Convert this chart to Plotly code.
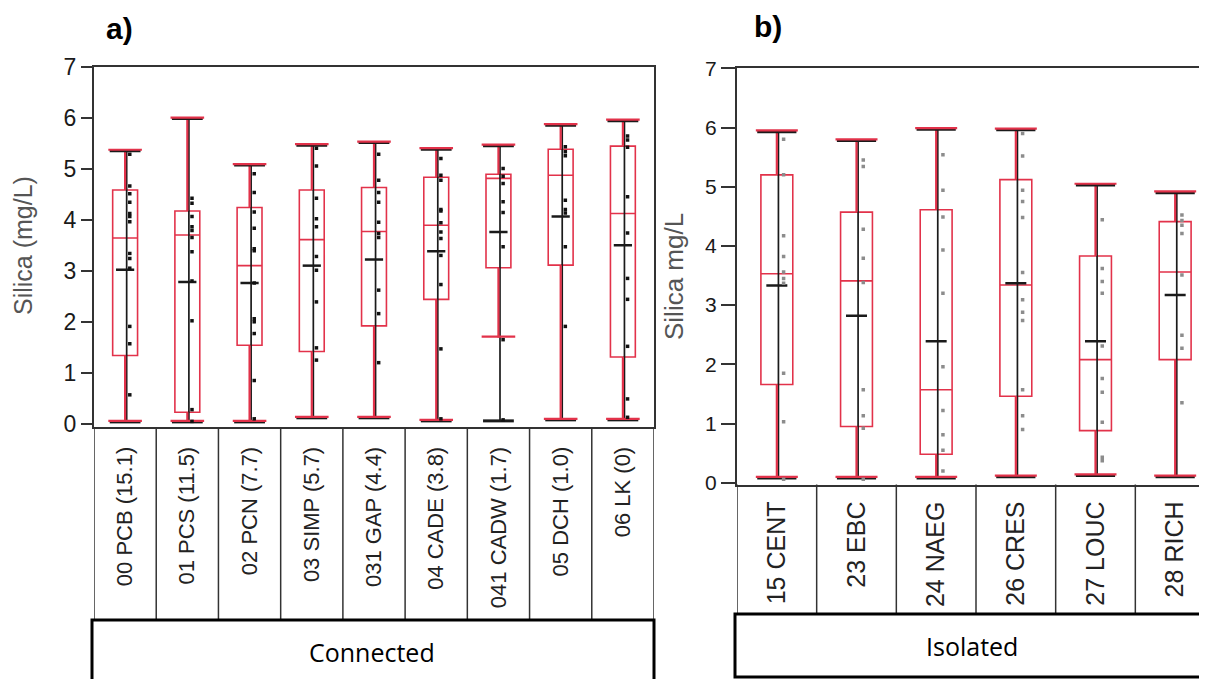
import plotly.graph_objects as go

# ---------------- Panel a) Connected ----------------
cats_a = ["00 PCB (15.1)", "01 PCS (11.5)", "02 PCN (7.7)", "03 SIMP (5.7)", "031 GAP (4.4)",
          "04 CADE (3.8)", "041 CADW (1.7)", "05 DCH (1.0)", "06 LK (0)"]
min_a = [0.04, 0.04, 0.04, 0.12, 0.12, 0.06, 0.06, 0.08, 0.08]
wlo_a = [0.04, 0.04, 0.04, 0.12, 0.12, 0.06, 1.69, 0.08, 0.08]
q1_a = [1.34, 0.23, 1.54, 1.42, 1.92, 2.44, 3.06, 3.11, 1.31]
med_a = [3.64, 3.70, 3.10, 3.61, 3.77, 3.89, 4.81, 4.87, 4.12]
q3_a = [4.58, 4.17, 4.24, 4.58, 4.63, 4.83, 4.89, 5.38, 5.44]
max_a = [5.35, 5.98, 5.07, 5.46, 5.51, 5.38, 5.45, 5.85, 5.94]
mean_a = [3.02, 2.78, 2.76, 3.10, 3.22, 3.38, 3.76, 4.06, 3.50]
pts_a = [
    [5.28, 4.66, 4.51, 4.34, 4.12, 4.06, 3.96, 3.34, 3.24, 3.05, 1.91, 1.57, 0.57],
    [4.42, 4.32, 4.06, 3.86, 3.79, 3.65, 3.37, 2.80, 2.02, 0.28, 0.05],
    [4.90, 4.53, 4.15, 3.83, 3.43, 3.39, 2.76, 2.06, 2.00, 1.77, 0.85, 0.10],
    [5.40, 5.05, 4.42, 4.02, 3.86, 3.28, 3.01, 2.39, 1.49, 1.25],
    [5.28, 4.77, 4.53, 4.34, 3.95, 3.73, 3.65, 2.62, 2.16, 1.20],
    [5.20, 4.87, 4.77, 4.20, 4.17, 3.94, 3.76, 3.63, 3.30, 2.73, 1.47, 0.10],
    [5.00, 4.85, 4.71, 4.35, 4.14, 3.47, 1.65, 0.08],
    [5.43, 5.33, 5.25, 4.38, 4.20, 4.13, 3.47, 1.91],
    [5.64, 5.56, 5.42, 4.45, 3.74, 2.85, 2.44, 1.52, 0.49, 0.13],
]

# ---------------- Panel b) Isolated ----------------
cats_b = ["15 CENT", "23 EBC", "24 NAEG", "26 CRES", "27 LOUC", "28 RICH"]
min_b = [0.08, 0.08, 0.08, 0.10, 0.12, 0.10]
wlo_b = [0.08, 0.08, 0.08, 0.10, 0.12, 0.10]
q1_b = [1.66, 0.95, 0.48, 1.46, 0.88, 2.08]
med_b = [3.53, 3.41, 1.57, 3.34, 2.08, 3.56]
q3_b = [5.20, 4.57, 4.61, 5.12, 3.83, 4.41]
max_b = [5.93, 5.78, 5.97, 5.96, 5.03, 4.90]
mean_b = [3.33, 2.82, 2.39, 3.37, 2.39, 3.17]
pts_b = [
    [5.80, 5.20, 4.17, 3.82, 3.56, 3.45, 3.37, 1.85, 1.03, 0.06],
    [5.45, 5.34, 4.28, 3.79, 3.38, 1.57, 1.13, 0.92, 0.06],
    [5.54, 4.94, 4.49, 3.93, 3.20, 1.96, 1.22, 0.81, 0.55, 0.20],
    [5.90, 5.52, 4.94, 4.75, 4.48, 3.55, 3.09, 2.88, 2.74, 1.57, 1.13, 0.90],
    [4.44, 3.62, 3.40, 3.20, 2.31, 1.76, 1.53, 1.02, 0.43, 0.37],
    [4.52, 4.43, 4.35, 4.21, 3.51, 2.49, 2.27, 1.35],
]

RED = "#e2324a"
DARK = "#1a1a1a"
W, H = 1207, 679
OFF = 8  # page body margin


def px_x(p):
    return (p - OFF) / W


def px_y(p):
    return 1 - (p - OFF) / H


fig = go.Figure()


def add_panel(xa, ya, cats, mn, wlo, q1, med, q3, mx, mean, pts, cap_px, mean_px, pt_off, pt_color, pt_size, line_off):
    n = len(cats)
    xs = list(range(n))
    # black min-max range line
    bx, by = [], []
    for i in xs:
        bx += [i + line_off, i + line_off, None]
        by += [mn[i], mx[i], None]
    fig.add_trace(go.Scatter(x=bx, y=by, mode="lines", line=dict(color=DARK, width=1.7),
                             xaxis=xa, yaxis=ya, hoverinfo="skip", showlegend=False))
    # red whiskers outside the box
    rx, ry = [], []
    for i in xs:
        rx += [i, i, None, i, i, None]
        ry += [wlo[i], q1[i], None, q3[i], mx[i], None]
    fig.add_trace(go.Scatter(x=rx, y=ry, mode="lines", line=dict(color=RED, width=2.2),
                             xaxis=xa, yaxis=ya, hoverinfo="skip", showlegend=False))
    # black caps at min/max
    fig.add_trace(go.Scatter(x=xs + xs, y=mn + mx, mode="markers",
                             marker=dict(symbol="line-ew", size=cap_px - 2,
                                         line=dict(color=DARK, width=3)),
                             xaxis=xa, yaxis=ya, hoverinfo="skip", showlegend=False))
    # red caps at whisker ends
    fig.add_trace(go.Scatter(x=xs + xs, y=[v + 0.02 for v in wlo] + [v + 0.02 for v in mx], mode="markers",
                             marker=dict(symbol="line-ew", size=cap_px,
                                         line=dict(color=RED, width=2.2)),
                             xaxis=xa, yaxis=ya, hoverinfo="skip", showlegend=False))
    # boxes
    fig.add_trace(go.Box(x=xs, q1=q1, median=med, q3=q3, lowerfence=q1, upperfence=q3,
                         width=0.4, whiskerwidth=0, boxpoints=False,
                         line=dict(color=RED, width=1.6), fillcolor="rgba(0,0,0,0)",
                         xaxis=xa, yaxis=ya, hoverinfo="skip", showlegend=False))
    # mean ticks
    fig.add_trace(go.Scatter(x=xs, y=mean, mode="markers",
                             marker=dict(symbol="line-ew", size=mean_px,
                                         line=dict(color=DARK, width=2.5)),
                             xaxis=xa, yaxis=ya, hoverinfo="skip", showlegend=False))
    # data points
    px_, py_ = [], []
    for i in xs:
        for v in pts[i]:
            px_.append(i + pt_off)
            py_.append(v)
    fig.add_trace(go.Scatter(x=px_, y=py_, mode="markers",
                             marker=dict(symbol="square", size=pt_size, color=pt_color),
                             xaxis=xa, yaxis=ya, hoverinfo="skip", showlegend=False))


add_panel("x", "y", cats_a, min_a, wlo_a, q1_a, med_a, q3_a, max_a, mean_a, pts_a,
          cap_px=24, mean_px=13, pt_off=0.075, pt_color="#111111", pt_size=3.5, line_off=0.025)
add_panel("x2", "y2", cats_b, min_b, wlo_b, q1_b, med_b, q3_b, max_b, mean_b, pts_b,
          cap_px=30, mean_px=15, pt_off=0.085, pt_color="#8c8c8c", pt_size=3.5, line_off=0.02)

tickfont_a = dict(family="Liberation Sans, Arial, sans-serif", size=23, color="#1a1a1a")
tickfont_b = dict(family="Liberation Sans, Arial, sans-serif", size=21, color="#1a1a1a")
catfont_a = dict(family="Liberation Sans, Arial, sans-serif", size=22, color="#222")
catfont_b = dict(family="Liberation Sans, Arial, sans-serif", size=25, color="#222")

fig.update_layout(
    width=W, height=H, margin=dict(l=0, r=0, t=0, b=0, pad=0, autoexpand=False),
    paper_bgcolor="white", plot_bgcolor="white", showlegend=False,
    xaxis=dict(domain=[px_x(94), px_x(654)], range=[-0.5, len(cats_a) - 0.5], anchor="y",
               tickmode="array", tickvals=list(range(len(cats_a))), ticktext=cats_a,
               tickangle=-90, ticks="", tickfont=catfont_a, ticklabelstandoff=9,
               showline=True, linecolor="#333", linewidth=2, mirror=True, automargin=False,
               showgrid=False, zeroline=False),
    yaxis=dict(domain=[px_y(427), px_y(66.5)], range=[-0.06, 7], anchor="x",
               tickmode="array", tickvals=list(range(8)), ticks="outside", ticklen=11,
               tickwidth=1.5, tickcolor="#333", tickfont=tickfont_a, automargin=False,
               showline=True, linecolor="#333", linewidth=2, mirror=True,
               showgrid=False, zeroline=False),
    xaxis2=dict(domain=[px_x(737), min(1.0, px_x(1215))], range=[-0.5, len(cats_b) - 0.5], anchor="y2",
                tickmode="array", tickvals=list(range(len(cats_b))), ticktext=cats_b,
                tickangle=-90, ticks="", tickfont=catfont_b, ticklabelstandoff=5,
                showline=True, linecolor="#333", linewidth=2, mirror=True, automargin=False,
                showgrid=False, zeroline=False),
    yaxis2=dict(domain=[px_y(484.5), px_y(68.3)], range=[-0.03, 7], anchor="x2",
                tickmode="array", tickvals=list(range(8)), ticks="outside", ticklen=14,
                tickwidth=1.5, tickcolor="#333", tickfont=tickfont_b, automargin=False,
                showline=True, linecolor="#333", linewidth=2, mirror=False,
                showgrid=False, zeroline=False),
)

shapes = []
# category cell separators
for k in range(len(cats_a) + 1):
    shapes.append(dict(type="line", xref="x", yref="paper", x0=k - 0.5, x1=k - 0.5,
                       y0=px_y(427), y1=px_y(620), line=dict(color="#333", width=1.5)))
for k in range(len(cats_b) + 1):
    shapes.append(dict(type="line", xref="x2", yref="paper", x0=k - 0.5, x1=k - 0.5,
                       y0=px_y(484.5), y1=px_y(614), line=dict(color="#333", width=1.5)))
# group boxes
shapes.append(dict(type="rect", xref="paper", yref="paper", x0=px_x(92), x1=px_x(654),
                   y0=px_y(700), y1=px_y(620), line=dict(color="#000", width=3)))
shapes.append(dict(type="rect", xref="paper", yref="paper", x0=px_x(735), x1=px_x(1230),
                   y0=px_y(677), y1=px_y(614), line=dict(color="#000", width=3)))
fig.update_layout(shapes=shapes)

group_font = dict(family="Open Sans, Noto Sans, sans-serif", size=25, color="#000")


def ann(text, x, y, font, angle=0):
    return dict(text=text, x=px_x(x), y=px_y(y), xref="paper", yref="paper", showarrow=False,
                xanchor="center", yanchor="middle", textangle=angle, font=font)


annos = [
    ann("<b>a)</b>", 119, 28, dict(family="Liberation Sans, Arial, sans-serif", size=30, color="#000")),
    ann("<b>b)</b>", 768, 26, dict(family="Liberation Sans, Arial, sans-serif", size=30, color="#000")),
    ann("Silica (mg/L)", 23, 246, dict(family="Liberation Sans, Arial, sans-serif", size=25, color="#555"), -90),
    ann("Silica mg/L", 674, 277, dict(family="Liberation Sans, Arial, sans-serif", size=26, color="#555"), -90),
    ann("Connected", 372, 652, group_font),
    ann("Isolated", 972, 646, group_font),
]
fig.update_layout(annotations=annos)

fig.write_html("out.html", config={"responsive": False})
